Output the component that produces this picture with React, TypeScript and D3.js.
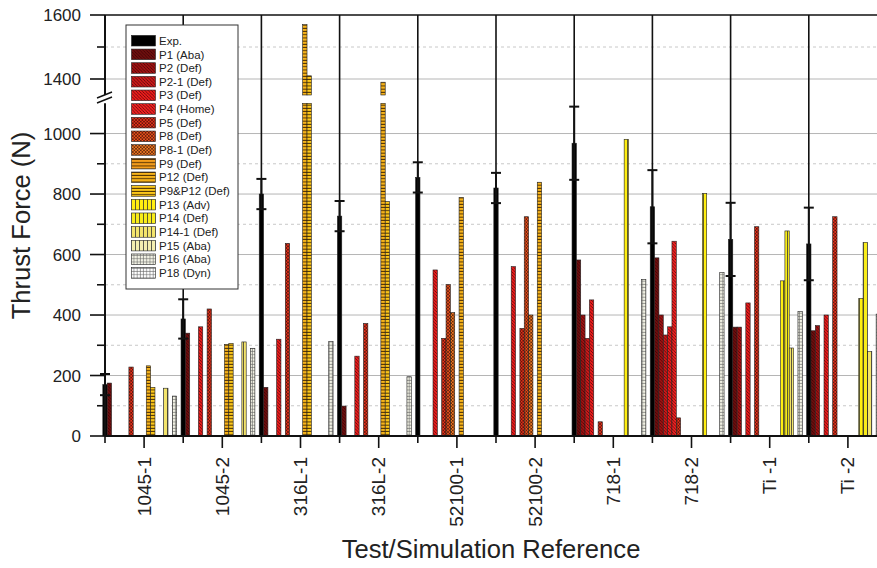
import React, { useEffect, useRef } from 'react';
import * as d3 from 'd3';

const groups = ['1045-1', '1045-2', '316L-1', '316L-2', '52100-1', '52100-2', '718-1', '718-2', 'Ti -1', 'Ti -2'];

const seriesNames = [
  'Exp.', 'P1 (Aba)', 'P2 (Def)', 'P2-1 (Def)', 'P3 (Def)', 'P4 (Home)', 'P5 (Def)', 'P8 (Def)',
  'P8-1 (Def)', 'P9 (Def)', 'P12 (Def)', 'P9&P12 (Def)', 'P13 (Adv)', 'P14 (Def)', 'P14-1 (Def)',
  'P15 (Aba)', 'P16 (Aba)', 'P18 (Dyn)',
];

// values, null = no bar
const expValues = [170, 387, 800, 727, 855, 820, 968, 758, 650, 635];
const expErrors = [35, 65, 50, 50, 50, 50, 121, 121, 121, 120];
const p1Values = [175, 340, 161, 99, null, null, 582, 589, 360, 348];
const p2Values = [null, null, null, null, null, null, 400, 400, 360, 365];
const p21Values = [null, null, null, null, null, null, 323, 334, null, null];
const p3Values = [null, 361, 320, 264, 549, 560, 450, 361, 440, 400];
const p4Values = [null, null, null, null, null, null, null, 644, null, null];
const p5Values = [228, 420, 637, 372, 323, 356, 47, 60, 692, 725];
const p8Values = [null, null, null, null, 501, 725, null, null, null, null];
const p81Values = [null, null, null, null, 408, 400, null, null, null, null];
const p9Values = [null, null, null, null, null, null, null, null, null, null];
const p12Values = [232, 303, 1570, 1390, 789, 839, null, null, null, null];
const p912Values = [161, 306, 1410, 775, null, null, null, null, null, null];
const p13Values = [null, null, null, null, null, null, 981, 802, 513, 455];
const p14Values = [null, null, null, null, null, null, null, null, 678, 640];
const p141Values = [158, 311, null, null, null, null, null, null, 291, 279];
const p15Values = [null, null, null, null, null, null, null, null, null, null];
const p16Values = [132, 290, 312, 196, null, null, 518, 540, 411, 403];
const p18Values = [null, null, null, null, null, null, null, null, null, null];

const seriesValues = [
  expValues, p1Values, p2Values, p21Values, p3Values, p4Values, p5Values, p8Values, p81Values,
  p9Values, p12Values, p912Values, p13Values, p14Values, p141Values, p15Values, p16Values, p18Values,
];

const lowerTicks = [0, 200, 400, 600, 800, 1000];
const lowerMinor = [100, 300, 500, 700, 900];
const upperTicks = [1400, 1600];
const upperMinor = [1500];

// fill styles per series
const seriesColors = [
  '#000000', '#6e0e0e', '#a01212', '#cc1a1a', '#ec1c1c', '#f02222', '#e8321c', '#ec521e',
  '#f07a22', '#f59e1c', '#f8b41a', '#fcc81a', '#ffee10', '#f8ec1a', '#f3e46c', '#f4eeb0',
  '#f4f4e6', '#ffffff',
];
const seriesKinds = [
  'solid', 'diag', 'diag', 'diag', 'diag', 'diag', 'cross', 'cross', 'cross', 'hline', 'hline',
  'hline', 'vline', 'vline', 'vline', 'vline', 'grid', 'grid',
];

const FONT = '"Liberation Sans", Arial, sans-serif';

export default function App() {
  const svgRef = useRef<SVGSVGElement>(null);

  useEffect(() => {
    if (!svgRef.current) return;
    const svg = d3.select(svgRef.current);
    svg.selectAll('*').remove();

    const left = 105;
    const right = 887;
    const bottom = 436;
    const top = 15;
    const breakLow = 1100;
    const breakHigh = 1350;

    const x = d3.scaleBand<string>().domain(groups).range([left, right]);
    const bw = x.bandwidth();
    const slot = bw / seriesNames.length;
    const xs = d3.scaleBand<string>().domain(seriesNames).range([-slot / 2, bw - slot / 2]);

    const yLow = d3.scaleLinear().domain([0, breakLow]).range([bottom, 103.3]);
    const yHigh = d3.scaleLinear().domain([breakHigh, 1600]).range([95, top]);

    // patterns
    const defs = svg.append('defs');
    seriesKinds.forEach((kind, i) => {
      if (kind === 'solid') return;
      const s = kind === 'vline' ? 4 : 3.2;
      const p = defs.append('pattern')
        .attr('id', `pat-${i}`)
        .attr('patternUnits', 'userSpaceOnUse')
        .attr('width', s)
        .attr('height', s);
      p.append('rect').attr('width', s).attr('height', s).attr('fill', seriesColors[i]);
      const line = (d: string, c = '#1a1a1a', w = 0.8) =>
        p.append('path').attr('d', d).attr('stroke', c).attr('stroke-width', w).attr('fill', 'none');
      const back = `M0,0L${s},${s}M${-1},${s - 1}L1,${s + 1}M${s - 1},-1L${s + 1},1`;
      const fwd = `M0,${s}L${s},0M-1,1L1,-1M${s - 1},${s + 1}L${s + 1},${s - 1}`;
      if (kind === 'diag') line(back, '#2a0000', 0.6);
      if (kind === 'cross') { line(back, '#2a0800', 0.55); line(fwd, '#2a0800', 0.55); }
      if (kind === 'hline') line(`M0,${s - 0.5}L${s},${s - 0.5}`, '#3a2000', 0.9);
      if (kind === 'vline') line(`M${s - 0.5},0L${s - 0.5},${s}`, '#333', 0.8);
      if (kind === 'grid') {
        line(`M0,${s - 0.5}L${s},${s - 0.5}`, '#666', 0.6);
        line(`M${s - 0.5},0L${s - 0.5},${s}`, '#666', 0.6);
      }
    });
    const fillOf = (i: number) => (seriesKinds[i] === 'solid' ? seriesColors[i] : `url(#pat-${i})`);

    // grid
    const grid = svg.append('g');
    [...lowerTicks.slice(1).map(v => yLow(v)), yHigh(1400)].forEach(yy => {
      grid.append('line').attr('x1', left).attr('x2', 877).attr('y1', yy).attr('y2', yy)
        .attr('stroke', '#b5b5b5').attr('stroke-width', 1);
    });
    [...lowerMinor.map(v => yLow(v)), ...upperMinor.map(v => yHigh(v))].forEach(yy => {
      grid.append('line').attr('x1', left).attr('x2', 877).attr('y1', yy).attr('y2', yy)
        .attr('stroke', '#c8c8c8').attr('stroke-width', 1).attr('stroke-dasharray', '3,3');
    });

    // group separators
    groups.slice(1).forEach(g => {
      svg.append('line').attr('x1', x(g)!).attr('x2', x(g)!).attr('y1', bottom).attr('y2', top)
        .attr('stroke', '#111').attr('stroke-width', 1.6);
    });

    // bars
    const bars = svg.append('g');
    seriesValues.forEach((vals, i) => {
      vals.forEach((v, j) => {
        if (v === null) return;
        const bx = x(groups[j])! + xs(seriesNames[i])!;
        const w = xs.bandwidth();
        const yl = yLow(Math.min(v, breakLow));
        bars.append('rect').attr('x', bx).attr('width', w).attr('y', yl).attr('height', bottom - yl)
          .attr('fill', fillOf(i)).attr('stroke', '#222').attr('stroke-width', 0.6);
        if (v > breakHigh) {
          const yh = yHigh(v);
          bars.append('rect').attr('x', bx).attr('width', w).attr('y', yh).attr('height', yHigh(breakHigh) - yh)
            .attr('fill', fillOf(i)).attr('stroke', '#222').attr('stroke-width', 0.6);
        }
      });
    });

    // error bars on Exp.
    expValues.forEach((v, j) => {
      const cx = x(groups[j])! + xs(seriesNames[0])! + xs.bandwidth() / 2;
      const hi = yLow(v + expErrors[j]);
      const lo = yLow(v - expErrors[j]);
      svg.append('line').attr('x1', cx).attr('x2', cx).attr('y1', hi).attr('y2', lo)
        .attr('stroke', '#111').attr('stroke-width', 2);
      [hi, lo].forEach(yy => {
        svg.append('line').attr('x1', cx - 5).attr('x2', cx + 5).attr('y1', yy).attr('y2', yy)
          .attr('stroke', '#111').attr('stroke-width', 2);
      });
    });

    // axes
    const ax = svg.append('g').attr('stroke', '#111');
    ax.append('line').attr('x1', left).attr('x2', 877).attr('y1', bottom).attr('y2', bottom).attr('stroke-width', 2);
    ax.append('line').attr('x1', left).attr('x2', 877).attr('y1', top).attr('y2', top).attr('stroke-width', 1.6);
    ax.append('line').attr('x1', left).attr('x2', left).attr('y1', bottom).attr('y2', yLow(breakLow)).attr('stroke-width', 2);
    ax.append('line').attr('x1', left).attr('x2', left).attr('y1', yHigh(breakHigh)).attr('y2', top).attr('stroke-width', 2);
    // break marks
    ax.append('line').attr('x1', 97).attr('x2', 112).attr('y1', 103).attr('y2', 97).attr('stroke-width', 1.4);
    ax.append('line').attr('x1', 97).attr('x2', 112).attr('y1', 98).attr('y2', 92).attr('stroke-width', 1.4);

    const yMajor = [...lowerTicks.map(v => yLow(v)), ...upperTicks.map(v => yHigh(v))];
    const yMinor = [...lowerMinor.map(v => yLow(v)), ...upperMinor.map(v => yHigh(v))];
    yMajor.forEach(yy => ax.append('line').attr('x1', left - 15).attr('x2', left).attr('y1', yy).attr('y2', yy).attr('stroke-width', 1.6));
    yMinor.forEach(yy => ax.append('line').attr('x1', left - 8).attr('x2', left).attr('y1', yy).attr('y2', yy).attr('stroke-width', 1.6));

    const yLabels = svg.append('g').attr('font-family', FONT).attr('font-size', 17).attr('fill', '#222')
      .attr('text-anchor', 'end');
    lowerTicks.forEach(v => yLabels.append('text').attr('x', 81).attr('y', yLow(v)).attr('dy', '0.36em').text(v));
    upperTicks.forEach(v => yLabels.append('text').attr('x', 81).attr('y', yHigh(v)).attr('dy', '0.36em').text(v));

    groups.forEach(g => {
      const b = x(g)!;
      const c = b + bw / 2;
      ax.append('line').attr('x1', b).attr('x2', b).attr('y1', bottom).attr('y2', bottom + 7).attr('stroke-width', 1.6);
      ax.append('line').attr('x1', c).attr('x2', c).attr('y1', bottom).attr('y2', bottom + 12).attr('stroke-width', 1.6);
      svg.append('text')
        .attr('transform', `translate(${c + 6.5},457) rotate(-90)`)
        .attr('text-anchor', 'end')
        .attr('font-family', FONT).attr('font-size', 19).attr('fill', '#222')
        .text(g);
    });

    svg.append('text')
      .attr('transform', `translate(30,225.5) rotate(-90)`)
      .attr('text-anchor', 'middle')
      .attr('font-family', FONT).attr('font-size', 25.6).attr('fill', '#222')
      .text('Thrust Force (N)');
    svg.append('text')
      .attr('x', 491).attr('y', 558)
      .attr('text-anchor', 'middle')
      .attr('font-family', FONT).attr('font-size', 25.6).attr('fill', '#222')
      .text('Test/Simulation Reference');

    // legend
    const lg = svg.append('g');
    lg.append('rect').attr('x', 126).attr('y', 25).attr('width', 112).attr('height', 264)
      .attr('fill', '#fff').attr('stroke', '#333').attr('stroke-width', 1);
    seriesNames.forEach((name, i) => {
      const cy = 40.7 + i * 13.66;
      lg.append('rect').attr('x', 131.5).attr('y', cy - 5.3).attr('width', 24).attr('height', 10.6)
        .attr('fill', fillOf(i)).attr('stroke', '#222').attr('stroke-width', 0.6);
      lg.append('text').attr('x', 159).attr('y', cy).attr('dy', '0.36em')
        .attr('font-family', FONT).attr('font-size', 11.5).attr('fill', '#222')
        .text(name);
    });
  }, []);

  return (
    <div style={{ position: 'absolute', left: 0, top: 0, background: '#fff' }}>
      <svg ref={svgRef} width={877} height={568} style={{ display: 'block' }} />
    </div>
  );
}
